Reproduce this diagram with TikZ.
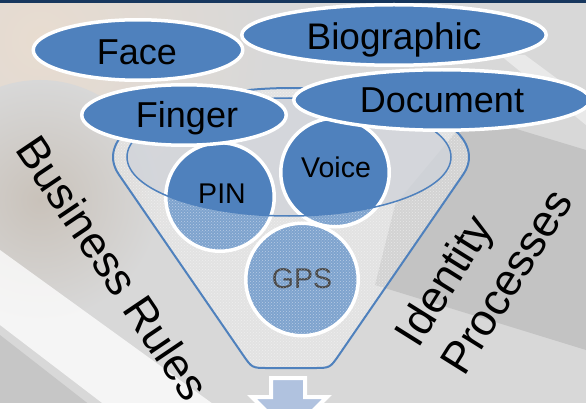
\documentclass[tikz,border=0pt]{standalone}
\usepackage{fontspec}
\setmainfont{Liberation Sans}
\usetikzlibrary{shapes.geometric,patterns}
\definecolor{fblue}{HTML}{4F81BD}
\definecolor{arrowblue}{HTML}{B0C2DF}
\definecolor{navy}{HTML}{17375E}
\definecolor{bgbase}{HTML}{D8D8D8}
\definecolor{bgwarm}{HTML}{E8DCD0}
\definecolor{bgdark}{HTML}{BCBCBC}
\definecolor{bgleft}{HTML}{C9C2BA}
\definecolor{bgcorner}{HTML}{C6C6C6}
\definecolor{rimgray}{HTML}{D3D6DC}
\tikzset{
  oval/.style={ellipse, draw=white, line width=3.5pt, fill=fblue, inner sep=0pt, minimum height=60.5pt},
  disc/.style={circle, draw=white, line width=3.5pt, fill=fblue, inner sep=0pt},
  bigtxt/.style={anchor=base, inner sep=0pt, font=\fontsize{36}{43}\selectfont},
  smalltxt/.style={anchor=base, inner sep=0pt, font=\fontsize{28.5}{34}\selectfont},
  sidetxt/.style={inner sep=0pt, font=\fontsize{44.5}{54}\selectfont},
  funnelline/.style={draw=fblue, line width=2pt},
}
\begin{document}
\begin{tikzpicture}[x=1pt,y=-1pt]
\useasboundingbox (0,0) rectangle (586,409);
\clip (0,0) rectangle (586,409);
% ---------- background ----------
\fill[bgbase] (0,0) rectangle (586,409);
\shade[inner color=bgwarm, outer color=bgbase] (40,40) circle [radius=230];
\shade[inner color=bgleft, outer color=bgbase] (40,200) circle [radius=120];
\fill[bgdark, fill opacity=0.75] (395,205) -- (470,115) -- (586,150) -- (586,350) -- (375,285) -- cycle;
\fill[white, fill opacity=0.45] (500,55) -- (525,55) -- (586,100) -- (586,125) -- cycle;
\fill[white, fill opacity=0.75] (0,250) -- (0,325) -- (110,409) -- (220,409) -- cycle;
\fill[bgcorner] (0,335) -- (0,409) -- (95,409) -- cycle;
\fill[navy] (0,0) rectangle (586,3.5);
% ---------- funnel: opening ----------
\fill[rimgray, fill opacity=0.8] (289,157) ellipse [x radius=162, y radius=59];
% ---------- circles ----------
\node[disc, minimum size=108.5pt] (pin) at (220,197) {};
\node[disc, minimum size=108.5pt] (voice) at (335,172.5) {};
\node[disc, minimum size=112.5pt] (gps) at (302,279.5) {};
\node[smalltxt] (pintxt) at (222,203) {PIN};
\node[smalltxt] (voicetxt) at (336,177) {Voice};
\node[smalltxt] (gpstxt) at (302,288) {GPS};
% ---------- funnel: front body ----------
\fill[white, fill opacity=0.27, even odd rule]
  plot[domain=194.95:-14.95, samples=90] ({291+178*cos(\x)},{157-69*sin(\x)})
  -- (339.1,354.8) .. controls (330,368) .. (314,368) -- (268,368)
  .. controls (252,368) .. (242.9,354.8) -- cycle
  (289,157) ellipse [x radius=162, y radius=59];
\fill[pattern=crosshatch dots, pattern color=white, fill opacity=0.45, even odd rule]
  plot[domain=194.95:-14.95, samples=90] ({291+178*cos(\x)},{157-69*sin(\x)})
  -- (339.1,354.8) .. controls (330,368) .. (314,368) -- (268,368)
  .. controls (252,368) .. (242.9,354.8) -- cycle
  (289,157) ellipse [x radius=162, y radius=59];
\draw[funnelline]
  plot[domain=194.95:-14.95, samples=90] ({291+178*cos(\x)},{157-69*sin(\x)})
  -- (339.1,354.8) .. controls (330,368) .. (314,368) -- (268,368)
  .. controls (252,368) .. (242.9,354.8) -- cycle;
\draw[fblue, line width=1.5pt] (289,157) ellipse [x radius=162, y radius=59];
% ---------- input ovals ----------
\node[oval, minimum width=304.5pt] (bio) at (394,35) {};
\node[oval, minimum width=209.5pt] (face) at (138,50) {};
\node[oval, minimum width=296.5pt] (doc) at (442,100) {};
\node[oval, minimum width=204.5pt] (finger) at (184,115) {};
\node[bigtxt, font=\fontsize{37}{44}\selectfont] (biotxt) at (394,50) {Biographic};
\node[bigtxt] (facetxt) at (137,65) {Face};
\node[bigtxt] (doctxt) at (442,113) {Document};
\node[bigtxt] (fingertxt) at (187,128) {Finger};
% ---------- side labels ----------
\node[sidetxt, rotate=-56] (rules) at (113,268) {Business Rules};
\node[sidetxt, rotate=58, align=left] (procs) at (483,267) {Identity\\Processes};
% ---------- output arrow ----------
\fill[white] (0,403) rectangle (586,409);
\draw[white, line width=4pt, fill=arrowblue]
  (271,378) -- (305,378) -- (305,397) -- (327,397) -- (289.5,434.5) -- (252,397) -- (271,397) -- cycle;
\end{tikzpicture}
\end{document}
